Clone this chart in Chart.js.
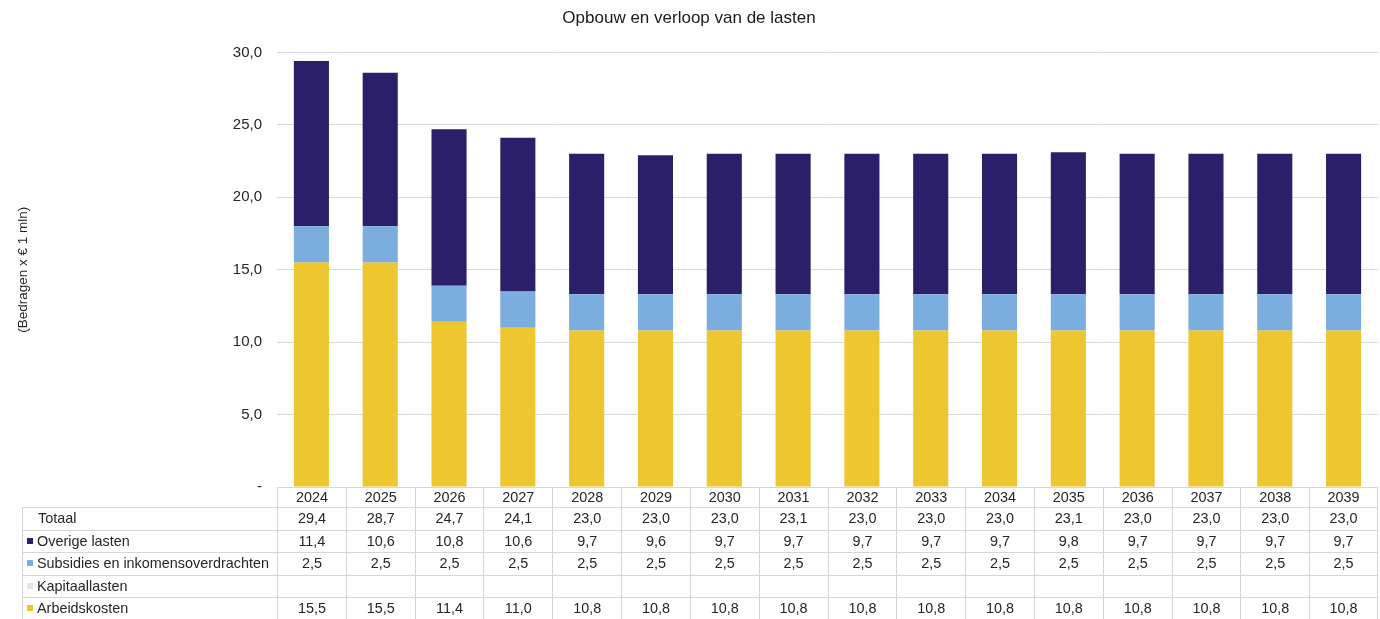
<!DOCTYPE html>
<html>
<head>
<meta charset="utf-8">
<script src="https://cdn.jsdelivr.net/npm/chart.js@4.4.1/dist/chart.umd.min.js"></script>
<style>
  body { margin: 0; background: #fff; font-family: "Liberation Sans", Arial, sans-serif; }
  #wrap { position: relative; width: 1380px; height: 619px; overflow: hidden; }
  #tbl { position: absolute; left: 0; top: 0; width: 1380px; height: 619px; pointer-events: none; }
  .c { position: absolute; box-sizing: border-box; border-left: 1px solid #d6d6d6; border-top: 1px solid #d6d6d6;
       font-size: 14.4px; color: #262626; text-align: center; white-space: nowrap; }
  .lab { text-align: left; }
  .sq { display: inline-block; width: 6px; height: 6px; margin: 0 4px 2px 4px; vertical-align: middle; }
</style>
</head>
<body>
<div id="wrap">
  <canvas id="chart" width="1380" height="619"></canvas>
  <div id="tbl"></div>
</div>
<script>
const years = ['2024','2025','2026','2027','2028','2029','2030','2031','2032','2033','2034','2035','2036','2037','2038','2039'];
const totaal = [29.4, 28.7, 24.7, 24.1, 23.0, 23.0, 23.0, 23.1, 23.0, 23.0, 23.0, 23.1, 23.0, 23.0, 23.0, 23.0];
const overigeLasten = [11.4, 10.6, 10.8, 10.6, 9.7, 9.6, 9.7, 9.7, 9.7, 9.7, 9.7, 9.8, 9.7, 9.7, 9.7, 9.7];
const subsidies = [2.5, 2.5, 2.5, 2.5, 2.5, 2.5, 2.5, 2.5, 2.5, 2.5, 2.5, 2.5, 2.5, 2.5, 2.5, 2.5];
const kapitaallasten = [null, null, null, null, null, null, null, null, null, null, null, null, null, null, null, null];
const arbeidskosten = [15.5, 15.5, 11.4, 11.0, 10.8, 10.8, 10.8, 10.8, 10.8, 10.8, 10.8, 10.8, 10.8, 10.8, 10.8, 10.8];
const yTicks = [0, 5, 10, 15, 20, 25, 30];

const COLORS = {
  overige: '#2a1f68',
  subsidies: '#7badde',
  kapitaal: '#dde7f1',
  arbeid: '#edc630'
};

const fmt = v => (v === null || v === undefined) ? '' : v.toFixed(1).replace('.', ',');
const font = '"Liberation Sans", Arial, sans-serif';

const bar = (label, data, color) => ({
  label: label,
  data: data,
  backgroundColor: color,
  borderWidth: 0,
  barPercentage: 0.51,
  categoryPercentage: 1.0
});

const chart = new Chart(document.getElementById('chart'), {
  type: 'bar',
  data: {
    labels: years,
    datasets: [
      bar('Arbeidskosten', arbeidskosten, COLORS.arbeid),
      bar('Kapitaallasten', kapitaallasten, COLORS.kapitaal),
      bar('Subsidies en inkomensoverdrachten', subsidies, COLORS.subsidies),
      bar('Overige lasten', overigeLasten, COLORS.overige)
    ]
  },
  options: {
    responsive: false,
    animation: false,
    layout: { padding: { left: 0, right: 2, top: 0, bottom: 132 } },
    plugins: {
      legend: { display: false },
      tooltip: { enabled: false },
      title: {
        display: true,
        text: 'Opbouw en verloop van de lasten',
        color: '#1a1a1a',
        font: { family: font, size: 17, weight: 'normal' },
        padding: { top: 8, bottom: 24 }
      }
    },
    scales: {
      x: { display: false, stacked: true },
      y: {
        stacked: true,
        min: 0,
        max: 30,
        afterFit: s => { s.width = 277; },
        afterBuildTicks: s => { s.ticks = yTicks.map(v => ({ value: v })); },
        border: { display: false },
        grid: { color: '#d9d9d9', drawTicks: false },
        ticks: {
          padding: 15,
          color: '#262626',
          font: { family: font, size: 15 },
          callback: v => v === 0 ? '-' : fmt(v)
        },
        title: {
          display: true,
          text: '(Bedragen x € 1 mln)',
          color: '#262626',
          font: { family: font, size: 13.5 },
          padding: { top: 15, bottom: 0 }
        }
      }
    }
  }
});

// data table below the plot, aligned with the category scale
(function buildTable() {
  const area = chart.chartArea;
  const host = document.getElementById('tbl');
  const tableLeft = 22;
  const colW = (area.right - area.left) / years.length;
  const headTop = area.bottom;
  const headH = 20;
  const rowH = 22.5;

  function cell(x, y, w, h, html, cls) {
    const d = document.createElement('div');
    d.className = 'c' + (cls ? ' ' + cls : '');
    d.style.left = x + 'px';
    d.style.top = y + 'px';
    d.style.width = w + 'px';
    d.style.height = h + 'px';
    d.style.lineHeight = (h - 1) + 'px';
    d.innerHTML = html;
    host.appendChild(d);
    return d;
  }

  years.forEach((yr, i) => {
    const c = cell(area.left + i * colW, headTop, colW, headH, yr);
    if (i === years.length - 1) c.style.borderRight = '1px solid #d6d6d6';
  });

  const rows = [
    { label: 'Totaal', data: totaal, color: null },
    { label: 'Overige lasten', data: overigeLasten, color: COLORS.overige },
    { label: 'Subsidies en inkomensoverdrachten', data: subsidies, color: COLORS.subsidies },
    { label: 'Kapitaallasten', data: kapitaallasten, color: COLORS.kapitaal },
    { label: 'Arbeidskosten', data: arbeidskosten, color: COLORS.arbeid }
  ];

  rows.forEach((r, ri) => {
    const y = headTop + headH + ri * rowH;
    const mark = r.color
      ? '<span class="sq" style="background:' + r.color + '"></span>'
      : '<span style="display:inline-block;width:15px"></span>';
    cell(tableLeft, y, area.left - tableLeft, rowH, mark + r.label, 'lab');
    r.data.forEach((v, i) => {
      const c = cell(area.left + i * colW, y, colW, rowH, fmt(v));
      if (i === years.length - 1) c.style.borderRight = '1px solid #d6d6d6';
    });
  });
})();
</script>
</body>
</html>
